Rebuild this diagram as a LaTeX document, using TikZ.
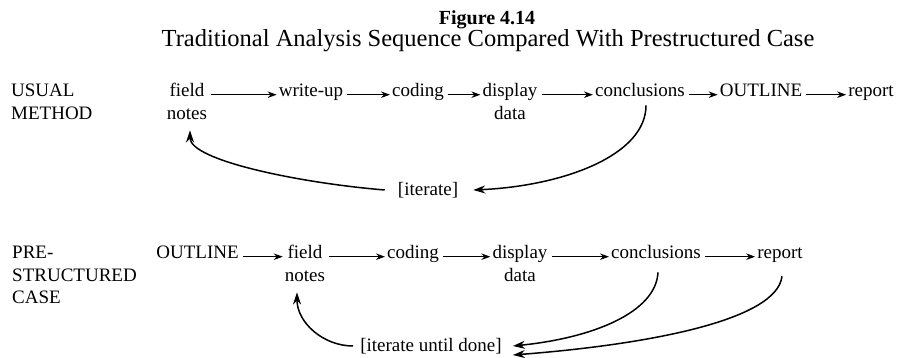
\documentclass[tikz,border=0pt]{standalone}
\usepackage{fontspec}
\setmainfont{Liberation Serif}
\usetikzlibrary{arrows.meta}

\begin{document}
\begin{tikzpicture}[x=1pt,y=1pt,
      txt/.style={inner sep=0pt,anchor=base,font=\fontsize{19}{22.5}\selectfont},
      side/.style={txt,anchor=base west},
      flow/.style={draw=black,line width=0.9pt,-{Stealth[length=9pt,width=6.5pt]},shorten <=4pt,shorten >=2pt},
      back/.style={draw=black,line width=1.5pt,-{Stealth[length=12pt,width=8pt]}}]
    \useasboundingbox (0,0) rectangle (905,358);
    % heading
    \node[txt,font=\fontsize{20}{23}\selectfont\bfseries] (fig) at (487,333) {Figure 4.14};
    \node[txt,font=\fontsize{24.5}{28}\selectfont] (cap) at (488,311) {Traditional Analysis Sequence Compared With Prestructured Case};
    % TOP: usual method
    \node[side] (um) at (11,261) {\begin{tabular}[t]{@{}l@{}}USUAL\\METHOD\end{tabular}};
    \node[txt] (fn1) at (187,261) {\begin{tabular}[t]{@{}c@{}}field\\notes\end{tabular}};
    \node[txt] (wu1) at (311,261) {write-up};
    \node[txt] (cd1) at (418,261) {coding};
    \node[txt] (dd1) at (510,261) {\begin{tabular}[t]{@{}c@{}}display\\data\end{tabular}};
    \node[txt] (cc1) at (640,261) {conclusions};
    \node[txt] (ol1) at (761,261) {OUTLINE};
    \node[txt] (rp1) at (871,261) {report};
    \node[txt,anchor=center] (it1) at (428,168) {[iterate]};
    \draw[flow] (fn1.mid east) -- (wu1.mid west);
    \draw[flow] (wu1.mid east) -- (cd1.mid west);
    \draw[flow] (cd1.mid east) -- (dd1.mid west);
    \draw[flow] (dd1.mid east) -- (cc1.mid west);
    \draw[flow] (cc1.mid east) -- (ol1.mid west);
    \draw[flow] (ol1.mid east) -- (rp1.mid west);
    \draw[back] ([shift={(6,-8)}]cc1.south) .. controls +(0,-50) and +(90,4) .. ([xshift=15pt]it1.east);
    \draw[back] ([xshift=-13pt]it1.west) .. controls +(-85,7) and +(0,-30) .. ([shift={(3,-4)}]fn1.south);
    % BOTTOM: prestructured case
    \node[side] (pc) at (12,99) {\begin{tabular}[t]{@{}l@{}}PRE-\\STRUCTURED\\CASE\end{tabular}};
    \node[txt] (ol2) at (197.5,99) {OUTLINE};
    \node[txt] (fn2) at (305,99) {\begin{tabular}[t]{@{}c@{}}field\\notes\end{tabular}};
    \node[txt] (cd2) at (413,99) {coding};
    \node[txt] (dd2) at (520,99) {\begin{tabular}[t]{@{}c@{}}display\\data\end{tabular}};
    \node[txt] (cc2) at (656,99) {conclusions};
    \node[txt] (rp2) at (780,99) {report};
    \node[txt,anchor=center] (it2) at (431,12) {[iterate until done]};
    \draw[flow] (ol2.mid east) -- (fn2.mid west);
    \draw[flow] (fn2.mid east) -- (cd2.mid west);
    \draw[flow] (cd2.mid east) -- (dd2.mid west);
    \draw[flow] (dd2.mid east) -- (cc2.mid west);
    \draw[flow] (cc2.mid east) -- (rp2.mid west);
    \draw[back] ([shift={(2,-13)}]cc2.south) .. controls +(-2,-40) and +(80,8) .. ([xshift=11pt]it2.east);
    \draw[back] ([shift={(2,-13)}]rp2.south) .. controls +(-5,-45) and +(130,10) .. ([shift={(11,-9)}]it2.east);
    \draw[back] ([xshift=-7pt]it2.west) .. controls +(-30,0) and +(0,-30) .. ([shift={(-8,-4)}]fn2.south);
\end{tikzpicture}
\end{document}
